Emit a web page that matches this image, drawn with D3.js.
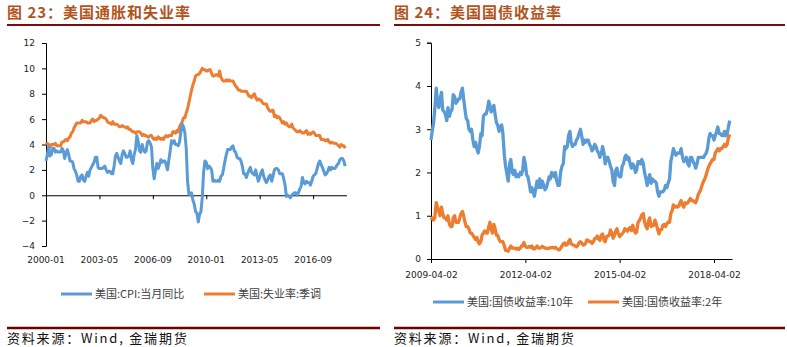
<!DOCTYPE html>
<html>
<head>
<meta charset="utf-8">
<script src="https://cdn.jsdelivr.net/npm/d3@7"></script>
<style>
  body { margin: 0; background: #fff; }
  svg { display: block; }
  .tick text { font-family: "DejaVu Sans", sans-serif; font-size: 9px; fill: #222; }
  .axis path, .axis line { stroke: #000; }
</style>
</head>
<body>
<svg id="chart" width="787" height="347"></svg>
<script>
// ---- chart 23: US CPI yoy & unemployment, monthly from 2000-01 ----
const leftStart = "2000-01";
const leftTicks = ["2000-01", "2003-05", "2006-09", "2010-01", "2013-05", "2016-09"];
const leftYTicks = [-4, -2, 0, 2, 4, 6, 8, 10, 12];
const cpi = [
  2.7,3.2,3.8,3.1,3.2,3.7,3.7,3.4,3.5,3.4,3.4,3.4,
  3.7,3.5,2.9,3.3,3.6,3.2,2.7,2.7,2.6,2.1,1.9,1.6,
  1.1,1.1,1.5,1.6,1.2,1.1,1.5,1.8,1.5,2.0,2.2,2.4,
  2.6,3.0,3.0,2.2,2.1,2.1,2.1,2.2,2.3,2.0,1.8,1.9,
  1.9,1.7,1.7,2.3,3.1,3.3,3.0,2.7,2.5,3.2,3.5,3.3,
  3.0,3.0,3.1,3.5,2.8,2.5,3.2,3.6,4.7,4.3,3.5,3.4,
  4.0,3.6,3.4,3.5,4.2,4.3,4.1,3.8,2.1,1.3,2.0,2.5,
  2.1,2.4,2.8,2.6,2.7,2.7,2.4,2.0,2.8,3.5,4.3,4.1,
  4.3,4.0,4.0,3.9,4.2,5.0,5.6,5.4,4.9,3.7,1.1,0.1,
  0.0,0.2,-0.4,-0.7,-1.3,-1.4,-2.1,-1.5,-1.3,-0.2,1.8,2.7,
  2.6,2.1,2.3,2.2,2.0,1.1,1.2,1.1,1.1,1.2,1.1,1.5,
  1.6,2.1,2.7,3.2,3.6,3.6,3.6,3.8,3.9,3.5,3.4,3.0,
  2.9,2.9,2.7,2.3,1.7,1.7,1.4,1.7,2.0,2.2,1.8,1.7,
  1.6,2.0,1.5,1.1,1.4,1.8,2.0,1.5,1.2,1.0,1.2,1.5,
  1.6,1.1,1.5,2.0,2.1,2.1,2.0,1.7,1.7,1.7,1.3,0.8,
  -0.1,0.0,-0.1,-0.2,0.0,0.1,0.2,0.2,0.0,0.2,0.5,0.7,
  1.4,1.0,0.9,1.1,1.0,1.0,0.8,1.1,1.5,1.6,1.7,2.1,
  2.5,2.7,2.4,2.2,1.9,1.6,1.7,1.9,2.2,2.0,2.2,2.1,
  2.1,2.2,2.4,2.5,2.8,2.9,2.9,2.7,2.3
];
const unemp = [
  4.0,4.1,4.0,3.8,4.0,4.0,4.0,4.1,3.9,3.9,3.9,3.9,
  4.2,4.2,4.3,4.4,4.3,4.5,4.6,4.9,5.0,5.3,5.5,5.7,
  5.7,5.7,5.7,5.9,5.8,5.8,5.8,5.7,5.7,5.7,5.9,6.0,
  5.8,5.9,5.9,6.0,6.1,6.3,6.2,6.1,6.1,6.0,5.8,5.7,
  5.7,5.6,5.8,5.6,5.6,5.6,5.5,5.4,5.4,5.5,5.4,5.4,
  5.3,5.4,5.2,5.2,5.1,5.0,5.0,4.9,5.0,5.0,5.0,4.9,
  4.7,4.8,4.7,4.7,4.6,4.6,4.7,4.7,4.5,4.4,4.5,4.4,
  4.6,4.5,4.4,4.5,4.4,4.6,4.7,4.6,4.7,4.7,4.7,5.0,
  5.0,4.9,5.1,5.0,5.4,5.6,5.8,6.1,6.1,6.5,6.8,7.3,
  7.8,8.3,8.7,9.0,9.4,9.5,9.5,9.6,9.8,10.0,9.9,9.9,
  9.8,9.8,9.9,9.9,9.6,9.4,9.4,9.5,9.5,9.4,9.8,9.3,
  9.1,9.0,9.0,9.1,9.0,9.1,9.0,9.0,9.0,8.8,8.6,8.5,
  8.3,8.3,8.2,8.2,8.2,8.2,8.2,8.0,7.8,7.8,7.7,7.9,
  8.0,7.7,7.5,7.6,7.5,7.5,7.3,7.2,7.2,7.2,6.9,6.7,
  6.6,6.7,6.7,6.2,6.3,6.1,6.2,6.1,5.9,5.7,5.8,5.6,
  5.7,5.5,5.4,5.4,5.6,5.3,5.2,5.1,5.0,5.0,5.1,5.0,
  4.9,4.9,5.0,5.1,4.8,4.9,4.8,4.9,5.0,4.9,4.7,4.7,
  4.7,4.7,4.4,4.4,4.4,4.3,4.3,4.4,4.2,4.1,4.2,4.1,
  4.1,4.1,4.0,3.9,3.8,4.0,3.9,3.9,3.7
];
const leftNames = ["美国:CPI:当月同比", "美国:失业率:季调"];

// ---- chart 24: US treasury yields, twice a month from 2009-04-02 ----
const rightTicks = ["2009-04-02", "2012-04-02", "2015-04-02", "2018-04-02"];
const rightYTicks = [0, 1, 2, 3, 4, 5];
const y10 = [
  2.75,2.95, 3.15,3.45, 3.95,3.65, 3.50,3.70, 3.85,3.45, 3.40,3.35, 3.20,3.50, 3.30,3.40, 3.45,3.80,
  3.75,3.60, 3.65,3.70, 3.70,3.85, 3.95,3.70, 3.45,3.25, 3.20,3.00, 2.95,3.00, 2.75,2.60, 2.70,2.55, 2.45,2.60, 2.90,2.85, 3.30,3.35,
  3.35,3.45, 3.65,3.55, 3.40,3.45, 3.55,3.35, 3.15,3.10, 2.95,3.05, 3.10,2.90, 2.40,2.15, 1.95,1.80, 2.20,2.30, 2.00,1.95, 2.05,1.90,
  1.95,1.90, 2.00,1.95, 2.05,2.35, 2.20,1.95, 1.90,1.75, 1.55,1.65, 1.55,1.45, 1.65,1.80, 1.65,1.85, 1.65,1.80, 1.70,1.60, 1.65,1.75,
  1.90,1.85, 2.00,1.95, 1.90,2.00, 1.80,1.70, 1.70,2.00, 2.15,2.20, 2.60,2.55, 2.60,2.85, 2.95,2.70, 2.60,2.65, 2.65,2.75, 2.80,2.90,
  3.00,2.85, 2.65,2.75, 2.70,2.75, 2.75,2.65, 2.60,2.50, 2.55,2.65, 2.60,2.50, 2.45,2.35, 2.45,2.60, 2.45,2.20, 2.35,2.35, 2.25,2.15,
  2.05,1.80, 1.70,2.05, 2.10,1.95, 1.90,1.90, 2.15,2.20, 2.35,2.40, 2.30,2.35, 2.20,2.10, 2.20,2.15, 2.00,2.05, 2.25,2.25, 2.20,2.30,
  2.20,2.00, 1.85,1.70, 1.85,1.95, 1.75,1.85, 1.80,1.80, 1.75,1.55, 1.45,1.55, 1.55,1.55, 1.60,1.70, 1.65,1.75, 1.85,2.25, 2.40,2.55,
  2.45,2.40, 2.45,2.45, 2.45,2.55, 2.35,2.25, 2.30,2.35, 2.20,2.15, 2.35,2.35, 2.25,2.20, 2.10,2.20, 2.35,2.35, 2.35,2.35, 2.35,2.40,
  2.45,2.55, 2.80,2.90, 2.85,2.85, 2.75,2.85, 2.95,3.05, 2.90,2.90, 2.85,2.85, 2.95,2.85, 2.90,3.05, 3.20
];
const y2 = [
  0.90,0.95, 0.90,0.95, 1.30,1.20, 1.10,1.00, 1.20,1.05, 0.95,0.95, 0.90,1.00, 0.80,0.75, 0.75,0.95,
  1.00,0.85, 0.85,0.85, 0.95,1.05, 1.10,1.00, 0.85,0.75, 0.75,0.70, 0.60,0.60, 0.55,0.50, 0.45,0.50, 0.40,0.35, 0.40,0.55, 0.60,0.65,
  0.60,0.60, 0.75,0.85, 0.70,0.60, 0.80,0.70, 0.55,0.55, 0.45,0.40, 0.40,0.40, 0.30,0.20, 0.20,0.18, 0.25,0.30, 0.25,0.25, 0.25,0.23,
  0.25,0.22, 0.25,0.30, 0.30,0.38, 0.30,0.27, 0.27,0.29, 0.27,0.30, 0.24,0.23, 0.27,0.30, 0.25,0.25, 0.27,0.29, 0.27,0.25, 0.25,0.24,
  0.25,0.26, 0.26,0.27, 0.25,0.27, 0.24,0.22, 0.21,0.25, 0.30,0.35, 0.37,0.32, 0.33,0.40, 0.45,0.35, 0.33,0.32, 0.30,0.28, 0.31,0.38,
  0.40,0.37, 0.32,0.33, 0.36,0.44, 0.43,0.40, 0.40,0.36, 0.40,0.47, 0.48,0.53, 0.46,0.43, 0.55,0.58, 0.44,0.40, 0.52,0.53, 0.55,0.67,
  0.60,0.48, 0.55,0.65, 0.70,0.60, 0.52,0.55, 0.58,0.62, 0.70,0.68, 0.64,0.70, 0.73,0.66, 0.78,0.67, 0.60,0.62, 0.85,0.88, 0.95,1.02,
  1.05,0.85, 0.75,0.70, 0.88,0.95, 0.75,0.78, 0.78,0.90, 0.80,0.68, 0.58,0.68, 0.68,0.78, 0.80,0.75, 0.82,0.85, 0.85,1.05, 1.12,1.25,
  1.20,1.22, 1.20,1.22, 1.30,1.35, 1.25,1.20, 1.30,1.28, 1.30,1.35, 1.40,1.35, 1.35,1.32, 1.30,1.38, 1.50,1.55, 1.62,1.72, 1.80,1.85,
  1.95,2.05, 2.15,2.20, 2.25,2.30, 2.30,2.45, 2.50,2.55, 2.50,2.55, 2.55,2.60, 2.65,2.60, 2.65,2.80, 2.88
];
const rightNames = ["美国:国债收益率:10年", "美国:国债收益率:2年"];

const blue = "#5b9bd5", orange = "#ed7d31";
const svg = d3.select("#chart");
const cjk = "'Noto Sans CJK SC', sans-serif";

// header / footer of each panel
function frame(x0, x1, title) {
  svg.append("text").attr("x", x0).attr("y", 18)
    .attr("font-family", cjk).attr("font-size", 15).attr("font-weight", "bold")
    .attr("letter-spacing", 1).attr("fill", "#b0541c").text(title);
  svg.append("line").attr("x1", x0).attr("x2", x1).attr("y1", 25).attr("y2", 25)
    .attr("stroke", "#7a0c0c").attr("stroke-width", 2);
  svg.append("line").attr("x1", x0).attr("x2", x1).attr("y1", 328).attr("y2", 328)
    .attr("stroke", "#6e0000").attr("stroke-width", 2.5);
  svg.append("text").attr("x", x0).attr("y", 343)
    .attr("font-family", cjk).attr("font-size", 13).attr("letter-spacing", 1.8).attr("fill", "#111")
    .text("资料来源：Wind, 金瑞期货");
}
frame(7, 380, "图 23：美国通胀和失业率");
frame(394, 785, "图 24：美国国债收益率");

function legend(items, y) {
  items.forEach(d => {
    svg.append("line").attr("x1", d.x).attr("x2", d.x + 31).attr("y1", y).attr("y2", y)
      .attr("stroke", d.color).attr("stroke-width", 3);
    svg.append("text").attr("x", d.x + 34).attr("y", y + 4)
      .attr("font-family", cjk).attr("font-size", 11).attr("fill", "#404040").text(d.name);
  });
}

// ---- left chart ----
const monthIdx = s => (+s.slice(0, 4) - 2000) * 12 + (+s.slice(5, 7) - 1);
const xL = d3.scaleLinear().domain([monthIdx(leftStart), 225]).range([46, 346.5]);
const yL = d3.scaleLinear().domain([-4, 12]).range([246, 43]);

const gL = svg.append("g");
gL.append("g").attr("class", "axis").attr("transform", "translate(46,0)")
  .call(d3.axisLeft(yL).tickValues(leftYTicks).tickSize(4).tickPadding(7));
gL.append("g").attr("class", "axis").attr("transform", `translate(0,${yL(0)})`)
  .call(d3.axisBottom(xL).tickValues(leftTicks.map(monthIdx)).tickSize(4).tickSizeOuter(0).tickFormat(""));
gL.selectAll(".xlab").data(leftTicks).join("text")
  .attr("x", d => xL(monthIdx(d))).attr("y", yL(-4) + 17)
  .attr("text-anchor", "middle")
  .style("font-family", "DejaVu Sans, sans-serif").style("font-size", "9px").attr("fill", "#222")
  .text(d => d);

const lineL = d3.line().x((d, i) => xL(i)).y(d => yL(d));
gL.append("path").datum(unemp).attr("d", lineL).attr("fill", "none")
  .attr("stroke", orange).attr("stroke-width", 3).attr("stroke-linejoin", "round");
gL.append("path").datum(cpi).attr("d", lineL).attr("fill", "none")
  .attr("stroke", blue).attr("stroke-width", 3).attr("stroke-linejoin", "round");

legend([{ x: 61, color: blue, name: leftNames[0] }, { x: 204, color: orange, name: leftNames[1] }], 294);

// ---- right chart ----
const parse = d3.timeParse("%Y-%m-%d");
const dates = y10.map((_, i) => new Date(2009, 3 + Math.floor(i / 2), i % 2 ? 16 : 2));
const xR = d3.scaleTime().domain([parse("2009-04-02"), parse("2018-10-28")]).range([431, 732]);
const yR = d3.scaleLinear().domain([0, 5]).range([259, 42.7]);

const gR = svg.append("g");
gR.append("g").attr("class", "axis").attr("transform", "translate(431,0)")
  .call(d3.axisLeft(yR).tickValues(rightYTicks).tickFormat(d3.format("d")).tickSize(4).tickPadding(6));
gR.append("g").attr("class", "axis").attr("transform", `translate(0,${yR(0)})`)
  .call(d3.axisBottom(xR).tickValues(rightTicks.map(parse)).tickSize(4).tickSizeOuter(0)
    .tickPadding(9).tickFormat(d3.timeFormat("%Y-%m-%d")));

const lineR = d3.line().x((d, i) => xR(dates[i])).y(d => yR(d));
gR.append("path").datum(y10).attr("d", lineR).attr("fill", "none")
  .attr("stroke", blue).attr("stroke-width", 3.3).attr("stroke-linejoin", "round");
gR.append("path").datum(y2).attr("d", lineR).attr("fill", "none")
  .attr("stroke", orange).attr("stroke-width", 3.3).attr("stroke-linejoin", "round");

legend([{ x: 433, color: blue, name: rightNames[0] }, { x: 588, color: orange, name: rightNames[1] }], 302);
</script>
</body>
</html>
